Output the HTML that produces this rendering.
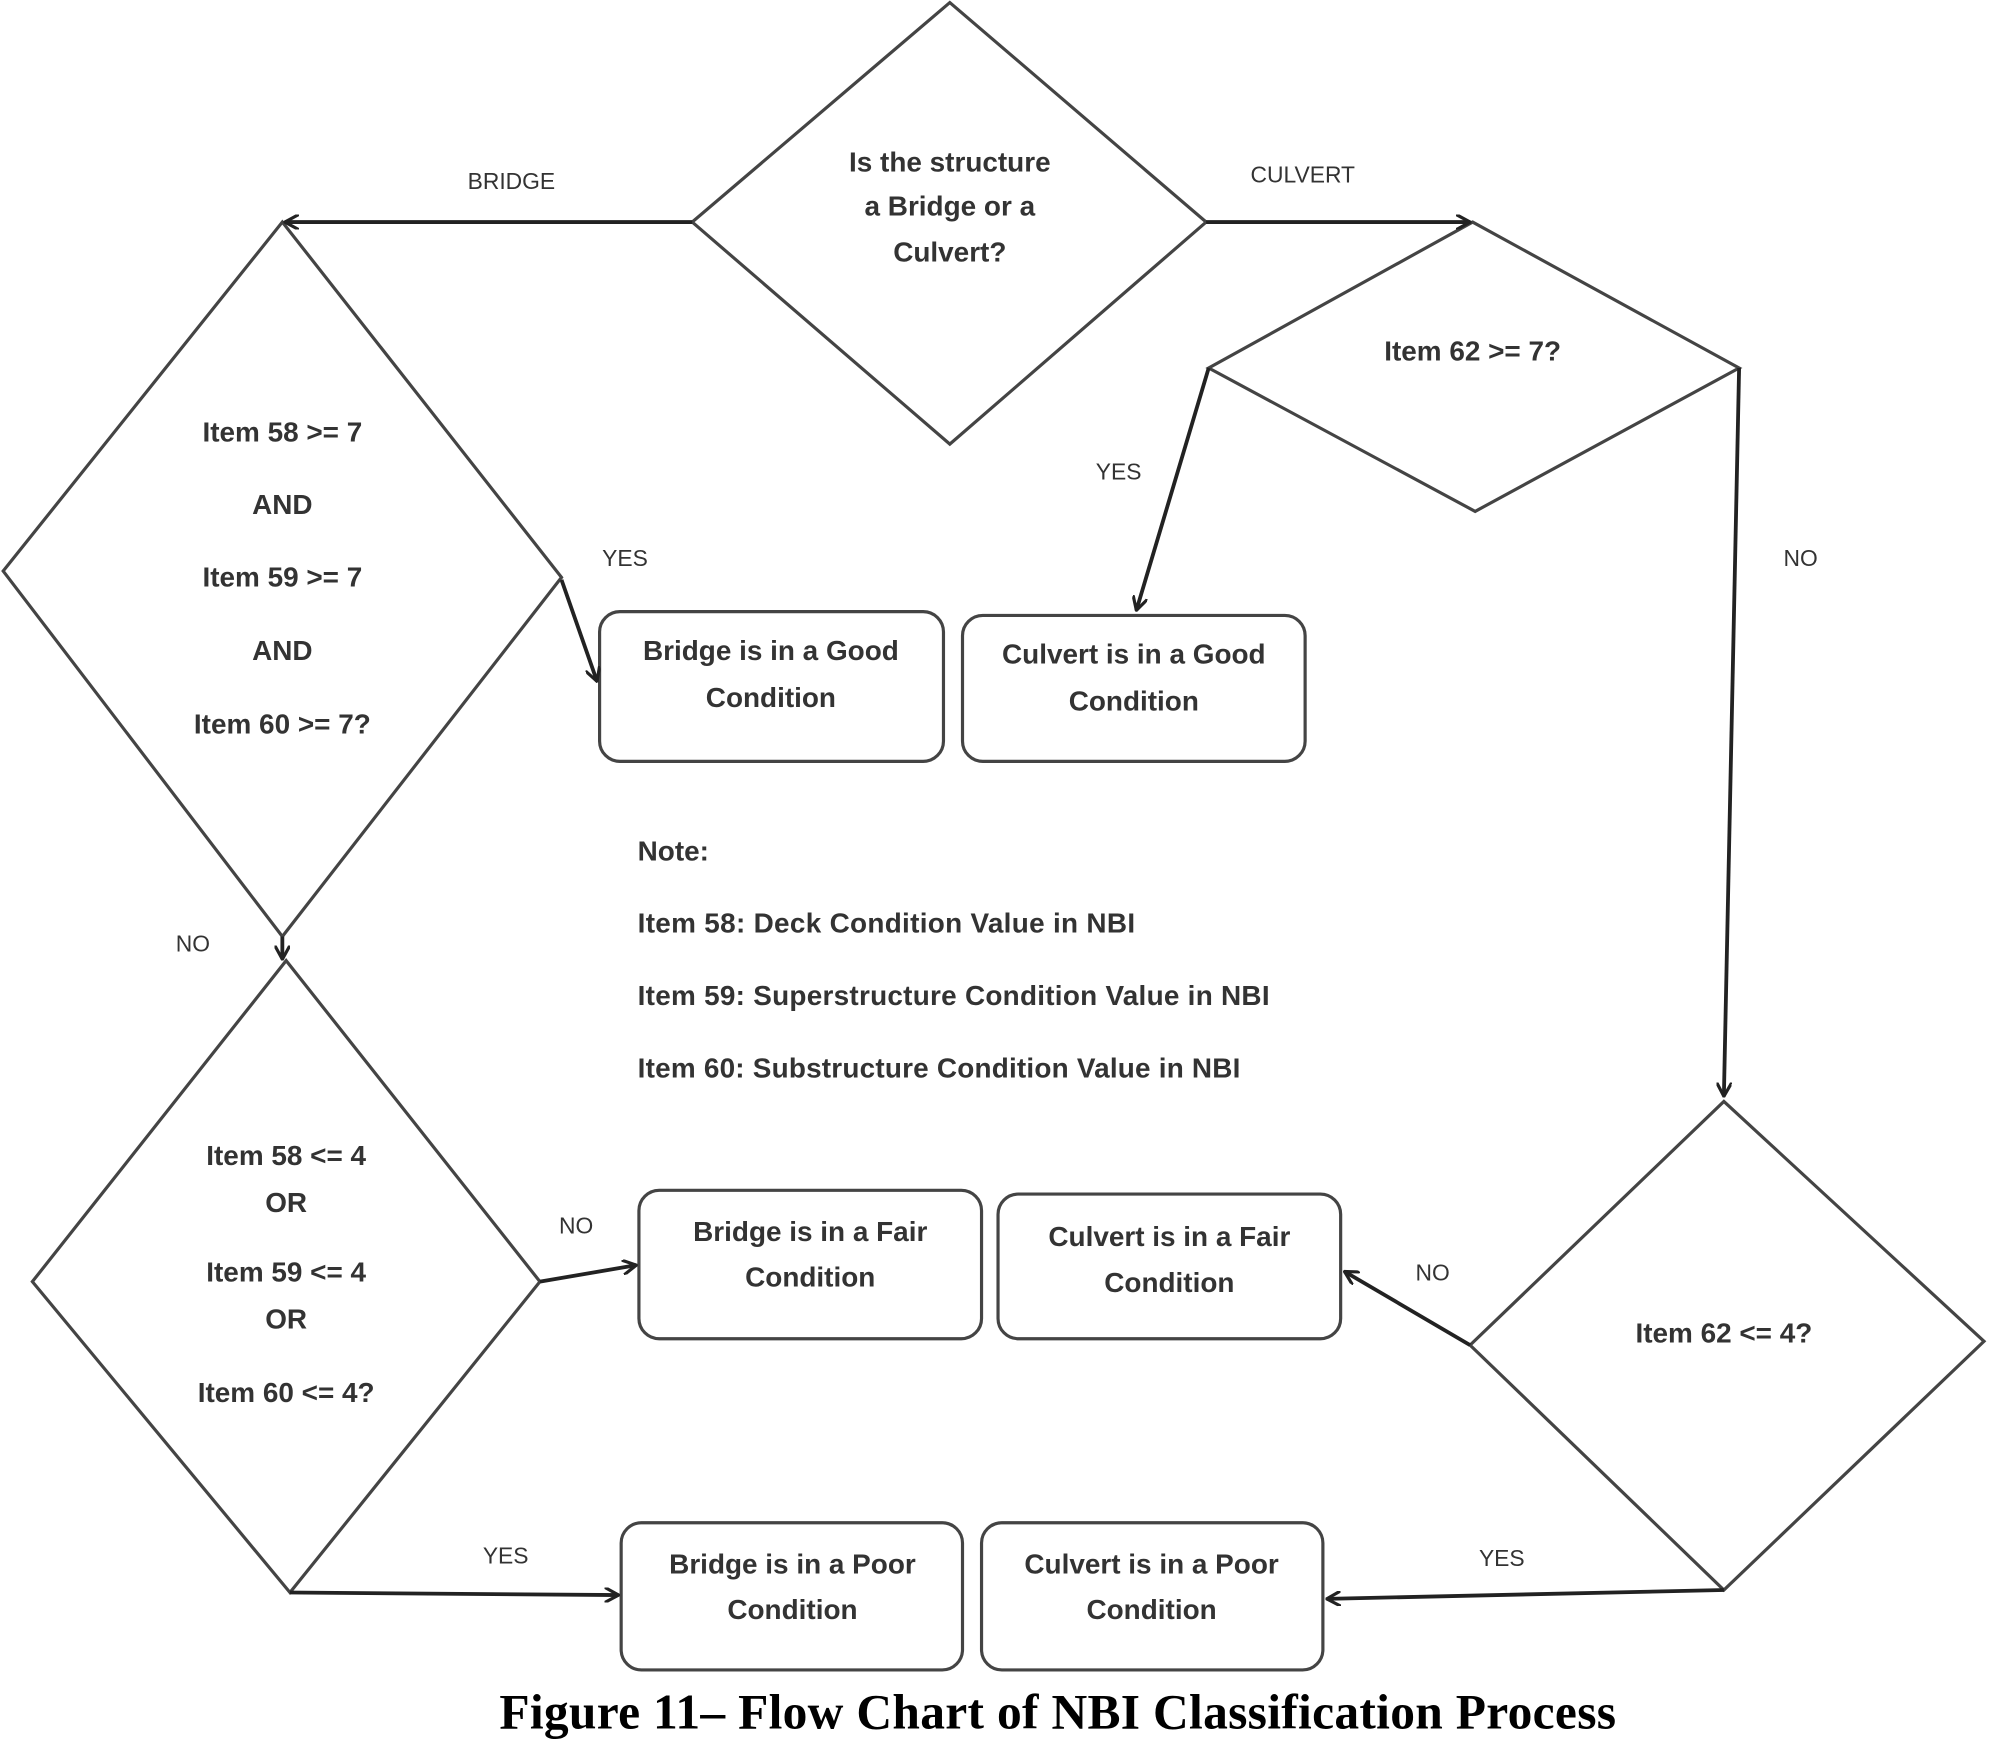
<!DOCTYPE html>
<html><head><style>
html,body{margin:0;padding:0;background:#fff;}
svg{display:block}
text{font-family:"Liberation Sans",sans-serif;fill:#333;}
.b{font-size:22px;font-weight:bold;}
.l{font-size:18px;}
</style></head><body>
<svg width="1991" height="1741" viewBox="0 0 1568 1372" xmlns="http://www.w3.org/2000/svg">
<defs><marker id="a" markerWidth="12" markerHeight="12" refX="11" refY="6" orient="auto" markerUnits="userSpaceOnUse"><path d="M0,0 L11,6 L0,12" fill="none" stroke="#222" stroke-width="2.5"/></marker></defs>
<g fill="none" stroke="#444" stroke-width="2.5">
<polygon points="748,2 950,175 748,350 545,175"/>
<polygon points="222,175 442,455 222,738 2,450"/>
<polygon points="225,757 425,1010 228,1255 25,1010"/>
<polygon points="1160,175 1370,290 1162,403 952,290"/>
<polygon points="1358,868 1563,1057 1358,1253 1158,1060"/>
<rect x="472" y="482" width="271" height="118" rx="16"/>
<rect x="758" y="485" width="270" height="115" rx="16"/>
<rect x="503" y="938" width="270" height="117" rx="16"/>
<rect x="786" y="941" width="270" height="114" rx="16"/>
<rect x="489" y="1200" width="269" height="116" rx="16"/>
<rect x="773" y="1200" width="269" height="116" rx="16"/>
</g>
<g stroke="#222" stroke-width="3" fill="none" marker-end="url(#a)">
<line x1="545" y1="175" x2="224" y2="175"/>
<line x1="950" y1="175" x2="1158" y2="175"/>
<line x1="442" y1="457" x2="470" y2="537"/>
<line x1="952" y1="290" x2="895" y2="481"/>
<line x1="1370" y1="290" x2="1358" y2="864"/>
<line x1="222" y1="738" x2="222" y2="756"/>
<line x1="425" y1="1010" x2="501" y2="997"/>
<line x1="1158" y1="1060" x2="1059" y2="1002"/>
<line x1="228" y1="1255" x2="487" y2="1257"/>
<line x1="1358" y1="1253" x2="1045" y2="1260"/>
</g>
<g class="b" text-anchor="middle">
<text x="748" y="135">Is the structure</text>
<text x="748" y="170">a Bridge or a</text>
<text x="748" y="206">Culvert?</text>
<text x="222" y="348">Item 58 &gt;= 7</text>
<text x="222" y="405">AND</text>
<text x="222" y="462">Item 59 &gt;= 7</text>
<text x="222" y="520">AND</text>
<text x="222" y="578">Item 60 &gt;= 7?</text>
<text x="1160" y="284">Item 62 &gt;= 7?</text>
<text x="225" y="918">Item 58 &lt;= 4</text>
<text x="225" y="955">OR</text>
<text x="225" y="1010">Item 59 &lt;= 4</text>
<text x="225" y="1047">OR</text>
<text x="225" y="1105">Item 60 &lt;= 4?</text>
<text x="1358" y="1058">Item 62 &lt;= 4?</text>
<text x="607" y="520">Bridge is in a Good</text>
<text x="607" y="557">Condition</text>
<text x="893" y="523">Culvert is in a Good</text>
<text x="893" y="560">Condition</text>
<text x="638" y="978">Bridge is in a Fair</text>
<text x="638" y="1014">Condition</text>
<text x="921" y="982">Culvert is in a Fair</text>
<text x="921" y="1018">Condition</text>
<text x="624" y="1240">Bridge is in a Poor</text>
<text x="624" y="1276">Condition</text>
<text x="907" y="1240">Culvert is in a Poor</text>
<text x="907" y="1276">Condition</text>
</g>
<g class="b">
<text x="502" y="678">Note:</text>
<text x="502" y="735" textLength="392">Item 58: Deck Condition Value in NBI</text>
<text x="502" y="792" textLength="498">Item 59: Superstructure Condition Value in NBI</text>
<text x="502" y="849" textLength="475">Item 60: Substructure Condition Value in NBI</text>
</g>
<g class="l">
<text x="368" y="149">BRIDGE</text>
<text x="985" y="144">CULVERT</text>
<text x="474" y="446">YES</text>
<text x="863" y="378">YES</text>
<text x="1405" y="446">NO</text>
<text x="138" y="750">NO</text>
<text x="440" y="972">NO</text>
<text x="1115" y="1009">NO</text>
<text x="380" y="1232">YES</text>
<text x="1165" y="1234">YES</text>
</g>
<text x="393" y="1362" textLength="880" style="font-family:'Liberation Serif',serif;font-weight:bold;font-size:39px;fill:#000">Figure 11– Flow Chart of NBI Classification Process</text>
</svg>
</body></html>
